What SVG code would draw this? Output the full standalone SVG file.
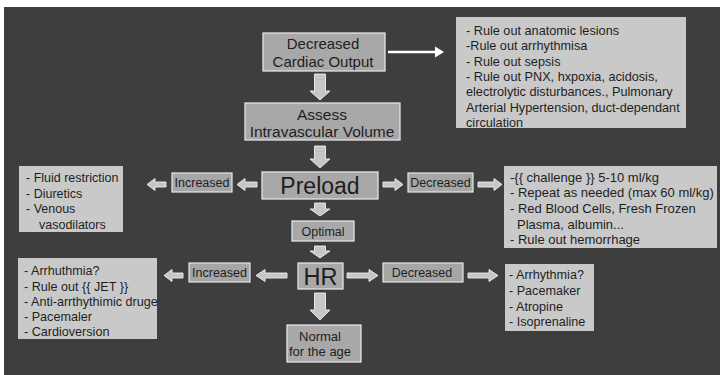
<svg xmlns="http://www.w3.org/2000/svg" width="720" height="375" viewBox="0 0 720 375">
<style>
text{font-family:"Liberation Sans",Arial,sans-serif;fill:#1e1e1e}
.node{fill:#a8a8a8;stroke:#e2e2e2;stroke-width:1.3}
.lbl{fill:#a6a6a6;stroke:#e6e6e6;stroke-width:1.2}
.note{fill:#c9c9c9}
.ba{fill:#c6c6c6;stroke:#efefef;stroke-width:0.9}
.c{text-anchor:middle}
</style>
<rect x="0" y="0" width="720" height="375" fill="#ffffff"/>
<rect x="4" y="7" width="716" height="368" fill="#3e3e3e"/>

<g id="connectors">
  <line x1="388" y1="52" x2="436" y2="52" stroke="#ffffff" stroke-width="2.5"/>
  <polygon points="435,46.5 444,52 435,57.5" fill="#ffffff"/>
  <path class="ba" d="M314.5,74 H325.5 V91 H330 L320,100 L310,91 H314.5 Z"/>
  <path class="ba" d="M314.5,146 H325.5 V159 H330 L320,168 L310,159 H314.5 Z"/>
  <path class="ba" d="M314.5,203 H325.5 V209 H330 L320,216 L310,209 H314.5 Z"/>
  <path class="ba" d="M314.5,246 H325.5 V251 H330 L320,258 L310,251 H314.5 Z"/>
  <path class="ba" d="M314.5,293 H325.5 V310 H330 L320,320 L310,310 H314.5 Z"/>
  <path class="ba" d="M257,182 H245 V178.5 L237,184.5 L245,190.5 V187 H257 Z"/>
  <path class="ba" d="M166,182 H155 V178.5 L147,184.5 L155,190.5 V187 H166 Z"/>
  <path class="ba" d="M383,182 H395 V178.5 L403,184.5 L395,190.5 V187 H383 Z"/>
  <path class="ba" d="M478,182 H494 V178.5 L502,184.5 L494,190.5 V187 H478 Z"/>
  <path class="ba" d="M287,273 H265 V269.5 L256,275.5 L265,281.5 V278 H287 Z"/>
  <path class="ba" d="M183,273 H172 V269.5 L164,275.5 L172,281.5 V278 H183 Z"/>
  <path class="ba" d="M347,273 H369 V269.5 L378,275.5 L369,281.5 V278 H347 Z"/>
  <path class="ba" d="M468,273 H489 V269.5 L498,275.5 L489,281.5 V278 H468 Z"/>
</g>

<g id="dco">
  <rect class="node" x="263" y="33" width="122" height="38"/>
  <text class="c" x="323" y="48.5" font-size="15">Decreased</text>
  <text class="c" x="323" y="66.5" font-size="15">Cardiac Output</text>
</g>

<g id="ruleout">
  <rect class="note" x="456" y="17" width="230" height="111"/>
  <g font-size="12.7">
    <text x="466" y="34.5">- Rule out anatomic lesions</text>
    <text x="466" y="50">-Rule out arrhythmisa</text>
    <text x="466" y="65.5">- Rule out sepsis</text>
    <text x="466" y="80.5">- Rule out PNX, hxpoxia, acidosis,</text>
    <text x="466" y="96">electrolytic disturbances., Pulmonary</text>
    <text x="466" y="111.5">Arterial Hypertension, duct-dependant</text>
    <text x="466" y="126.5">circulation</text>
  </g>
</g>

<g id="assess">
  <rect class="node" x="245" y="103" width="155" height="37"/>
  <text class="c" x="322" y="119.5" font-size="15.5">Assess</text>
  <text class="c" x="322" y="136.5" font-size="15.5">Intravascular Volume</text>
</g>

<g id="preload">
  <rect class="node" x="262" y="172" width="116" height="27"/>
  <text class="c" x="320" y="193.5" font-size="23">Preload</text>
</g>

<g id="preload-increased">
  <rect class="lbl" x="172" y="173" width="60" height="19"/>
  <text class="c" x="202" y="187" font-size="12.5">Increased</text>
</g>

<g id="preload-decreased">
  <rect class="lbl" x="408" y="173" width="65" height="19"/>
  <text class="c" x="440.5" y="187" font-size="12.5">Decreased</text>
</g>

<g id="preload-left-box">
  <rect class="note" x="19" y="166" width="104" height="66"/>
  <g font-size="12.5">
    <text x="26" y="181.5">- Fluid restriction</text>
    <text x="26" y="197.5">- Diuretics</text>
    <text x="26" y="213">- Venous</text>
    <text x="39" y="228.5">vasodilators</text>
  </g>
</g>

<g id="preload-right-box">
  <rect class="note" x="504" y="166" width="213" height="82"/>
  <g font-size="13">
    <text x="510" y="181.5">-{{ challenge }} 5-10 ml/kg</text>
    <text x="510" y="197">- Repeat as needed (max 60 ml/kg)</text>
    <text x="510" y="213">- Red Blood Cells, Fresh Frozen</text>
    <text x="517" y="228.5">Plasma, albumin...</text>
    <text x="510" y="244">- Rule out hemorrhage</text>
  </g>
</g>

<g id="optimal">
  <rect class="node" x="292" y="221" width="62" height="20"/>
  <text class="c" x="323" y="235.5" font-size="12.5">Optimal</text>
</g>

<g id="hr">
  <rect class="node" x="298" y="263" width="45" height="26"/>
  <text class="c" x="320.5" y="285" font-size="23.5">HR</text>
</g>

<g id="hr-increased">
  <rect class="lbl" x="189" y="263" width="61" height="19"/>
  <text class="c" x="219.5" y="277" font-size="12.5">Increased</text>
</g>

<g id="hr-decreased">
  <rect class="lbl" x="383" y="263" width="80" height="19"/>
  <text class="c" x="422" y="277" font-size="12.5">Decreased</text>
</g>

<g id="hr-left-box">
  <rect class="note" x="18" y="258" width="139" height="81"/>
  <g font-size="12.6">
    <text x="24" y="275">- Arrhuthmia?</text>
    <text x="24" y="290.5">- Rule out {{ JET }}</text>
    <text x="24" y="306">- Anti-arrthythimic druge</text>
    <text x="24" y="321">- Pacemaler</text>
    <text x="24" y="336">- Cardioversion</text>
  </g>
</g>

<g id="hr-right-box">
  <rect class="note" x="505" y="264" width="89" height="67"/>
  <g font-size="12.6">
    <text x="509" y="279">- Arrhythmia?</text>
    <text x="509" y="295">- Pacemaker</text>
    <text x="509" y="310.5">- Atropine</text>
    <text x="509" y="326">- Isoprenaline</text>
  </g>
</g>

<g id="normal">
  <rect class="node" x="287" y="325" width="74" height="37"/>
  <text class="c" x="320" y="341" font-size="13">Normal</text>
  <text class="c" x="320" y="355.5" font-size="13">for the age</text>
</g>
</svg>
